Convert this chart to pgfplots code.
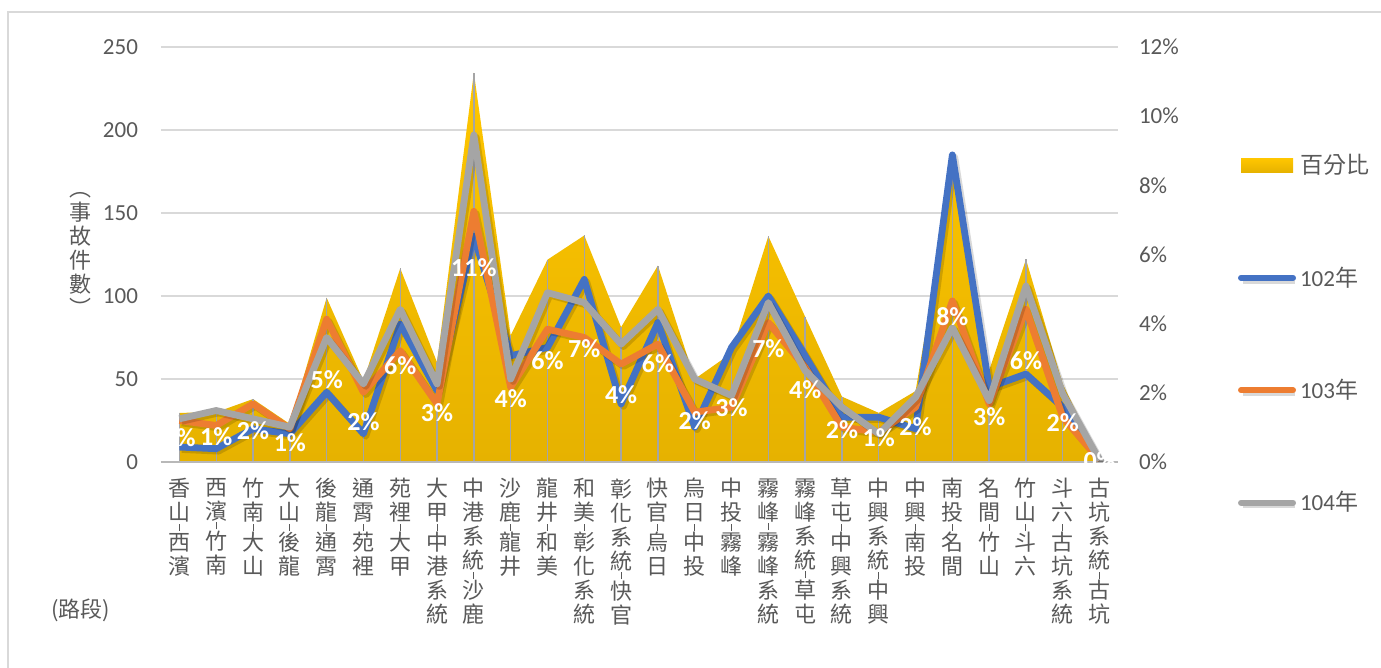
\documentclass[border=0pt]{standalone}
\usepackage{fontspec}
\setmainfont{Carlito}
\newfontfamily\cjk{Noto Sans CJK TC}
\usepackage{pgfplots}
\usepackage{pgfplotstable}
\pgfplotsset{compat=1.18}
\definecolor{c102}{HTML}{4472C4}
\definecolor{c103}{HTML}{ED7D31}
\definecolor{c104}{HTML}{A5A5A5}
\definecolor{areaT}{HTML}{FFC600}
\definecolor{areaB}{HTML}{E6B200}
\definecolor{txt}{HTML}{595959}
\definecolor{gridc}{HTML}{D9D9D9}

\pgfplotstableread{
idx pct lab y102 y103 y104
0 1.42 1 9 25 26
1 1.44 1 8 22 31
2 1.82 2 20 35 26
3 1.10 1 17 20 21
4 4.75 5 42 86 75
5 2.35 2 17 42 47
6 5.60 6 83 67 92
7 2.88 3 43 35 47
8 11.26 11 136 151 197
9 3.66 4 64 45 50
10 5.85 6 69 80 102
11 6.55 7 110 75 96
12 3.90 4 35 59 71
13 5.68 6 84 71 92
14 2.40 2 21 30 50
15 3.15 3 69 33 40
16 6.53 7 100 84 96
17 4.20 4 64 57 55
18 1.89 2 27 21 33
19 1.42 1 27 18 17
20 2.05 2 20 33 39
21 8.40 8 185 97 81
22 2.65 3 45 35 37
23 5.86 6 53 92 106
24 2.25 2 33 27 41
25 0.07 0 1 1 1
}\data

\pgfplotsset{
  base/.style={scale only axis, width=478.5pt, height=207.5pt,
    xmin=-0.5, xmax=25.5, at={(0pt,0pt)}, anchor=south west,
    /pgf/number format/assume math mode=true},
  sh/.style={preaction={draw=black, opacity=0.15, line width=3.4pt,
    transform canvas={shift={(1.2pt,-1.2pt)}}}}
}

\begin{document}
\begin{tikzpicture}
\useasboundingbox (-80.5pt,-103pt) rectangle (610pt,231pt);
\draw[gridc, line width=0.8pt] (-76.5pt,-103pt) -- (-76.5pt,225pt) -- (610pt,225pt);

% grid + left ticks
\begin{axis}[base, ymin=0, ymax=250, ytick={0,50,...,250},
  ymajorgrids, grid style={gridc, line width=0.8pt},
  axis line style={draw=none}, xtick=\empty, major tick length=0pt,
  yticklabel style={text=txt, font=\fontsize{11.5}{12}\selectfont, xshift=-8pt},
  ylabel={︵\\事\\故\\件\\數\\︶},
  ylabel style={at={(axis description cs:-0.0846,0.5)}, anchor=center, rotate=-90,
    align=center, text=txt, font=\cjk\fontsize{11}{12}\selectfont}]
\addplot[draw=none] coordinates {(0,0)};
\end{axis}

% area (right axis)
\begin{axis}[base, ymin=0, ymax=12, ytick={0,2,...,12},
  axis x line=none, axis y line*=right, y axis line style={draw=none},
  major tick length=0pt,
  yticklabel={\pgfmathprintnumber{\tick}\%},
  yticklabel style={text=txt, font=\fontsize{11.5}{12}\selectfont, xshift=7pt}]
\addplot[draw=none, top color=areaT, bottom color=areaB] table[x=idx,y=pct]{\data} \closedcycle;
\addplot[ycomb, c104, line width=0.7pt, mark=none] table[x=idx,y=pct]{\data};
\end{axis}

% lines (left scale)
\begin{axis}[base, ymin=0, ymax=250,
  axis y line=none, axis x line*=bottom,
  x axis line style={-, draw=gridc!85!black, line width=0.9pt},
  xtick={0,...,25}, xtick style={draw=none}, major tick length=0pt,
  xticklabels={
    {香\\山\\[-8pt]\rule[-1pt]{0.5pt}{3.5pt}\\[-1pt]西\\濱},
    {西\\濱\\[-8pt]\rule[-1pt]{0.5pt}{3.5pt}\\[-1pt]竹\\南},
    {竹\\南\\[-8pt]\rule[-1pt]{0.5pt}{3.5pt}\\[-1pt]大\\山},
    {大\\山\\[-8pt]\rule[-1pt]{0.5pt}{3.5pt}\\[-1pt]後\\龍},
    {後\\龍\\[-8pt]\rule[-1pt]{0.5pt}{3.5pt}\\[-1pt]通\\霄},
    {通\\霄\\[-8pt]\rule[-1pt]{0.5pt}{3.5pt}\\[-1pt]苑\\裡},
    {苑\\裡\\[-8pt]\rule[-1pt]{0.5pt}{3.5pt}\\[-1pt]大\\甲},
    {大\\甲\\[-8pt]\rule[-1pt]{0.5pt}{3.5pt}\\[-1pt]中\\港\\系\\統},
    {中\\港\\系\\統\\[-8pt]\rule[-1pt]{0.5pt}{3.5pt}\\[-1pt]沙\\鹿},
    {沙\\鹿\\[-8pt]\rule[-1pt]{0.5pt}{3.5pt}\\[-1pt]龍\\井},
    {龍\\井\\[-8pt]\rule[-1pt]{0.5pt}{3.5pt}\\[-1pt]和\\美},
    {和\\美\\[-8pt]\rule[-1pt]{0.5pt}{3.5pt}\\[-1pt]彰\\化\\系\\統},
    {彰\\化\\系\\統\\[-8pt]\rule[-1pt]{0.5pt}{3.5pt}\\[-1pt]快\\官},
    {快\\官\\[-8pt]\rule[-1pt]{0.5pt}{3.5pt}\\[-1pt]烏\\日},
    {烏\\日\\[-8pt]\rule[-1pt]{0.5pt}{3.5pt}\\[-1pt]中\\投},
    {中\\投\\[-8pt]\rule[-1pt]{0.5pt}{3.5pt}\\[-1pt]霧\\峰},
    {霧\\峰\\[-8pt]\rule[-1pt]{0.5pt}{3.5pt}\\[-1pt]霧\\峰\\系\\統},
    {霧\\峰\\系\\統\\[-8pt]\rule[-1pt]{0.5pt}{3.5pt}\\[-1pt]草\\屯},
    {草\\屯\\[-8pt]\rule[-1pt]{0.5pt}{3.5pt}\\[-1pt]中\\興\\系\\統},
    {中\\興\\系\\統\\[-8pt]\rule[-1pt]{0.5pt}{3.5pt}\\[-1pt]中\\興},
    {中\\興\\[-8pt]\rule[-1pt]{0.5pt}{3.5pt}\\[-1pt]南\\投},
    {南\\投\\[-8pt]\rule[-1pt]{0.5pt}{3.5pt}\\[-1pt]名\\間},
    {名\\間\\[-8pt]\rule[-1pt]{0.5pt}{3.5pt}\\[-1pt]竹\\山},
    {竹\\山\\[-8pt]\rule[-1pt]{0.5pt}{3.5pt}\\[-1pt]斗\\六},
    {斗\\六\\[-8pt]\rule[-1pt]{0.5pt}{3.5pt}\\[-1pt]古\\坑\\系\\統},
    {古\\坑\\系\\統\\[-8pt]\rule[-1pt]{0.5pt}{3.5pt}\\[-1pt]古\\坑}},
  xticklabel style={anchor=north, align=center, text=txt, inner sep=0pt,
    font=\cjk\fontsize{11}{12}\selectfont, yshift=-8pt},
  xlabel={(\cjk 路段)},
  xlabel style={at={(axis description cs:-0.0836,-0.3566)}, anchor=center,
    text=txt, font=\cjk\fontsize{11}{12}\selectfont},
  legend image code/.code={\draw[#1, line width=3pt, line cap=round] (0pt,0pt) -- (26pt,0pt);},
  legend style={at={(axis description cs:1.125,0.752)}, anchor=north west,
    draw=none, fill=none, text=txt, font=\fontsize{11.5}{13}\selectfont,
    row sep=41pt, inner sep=0pt},
  legend cell align=left]
\addlegendimage{legend image code/.code={\path[draw=none, top color=areaT, bottom color=areaB] (0pt,-3.5pt) rectangle (26pt,3.5pt);}}
\addlegendentry{{\cjk 百分比}}
\addplot[c102, line width=3.4pt, line join=round, sh] table[x=idx,y=y102]{\data};
\addlegendentry{102{\cjk 年}}
\addplot[c103, line width=3.4pt, line join=round, sh] table[x=idx,y=y103]{\data};
\addlegendentry{103{\cjk 年}}
\addplot[c104, line width=3.4pt, line join=round, sh] table[x=idx,y=y104]{\data};
\addlegendentry{104{\cjk 年}}
\addplot[forget plot, draw=none, mark=none,
  nodes near coords={\pgfmathprintnumber[fixed,precision=0]{\pgfplotspointmeta}\%},
  point meta=\thisrow{lab},
  every node near coord/.append style={white, anchor=center,
    font=\bfseries\fontsize{13}{13}\selectfont}]
  table[x=idx, y expr=\thisrow{pct}*125/12]{\data};
\end{axis}
\end{tikzpicture}
\end{document}
